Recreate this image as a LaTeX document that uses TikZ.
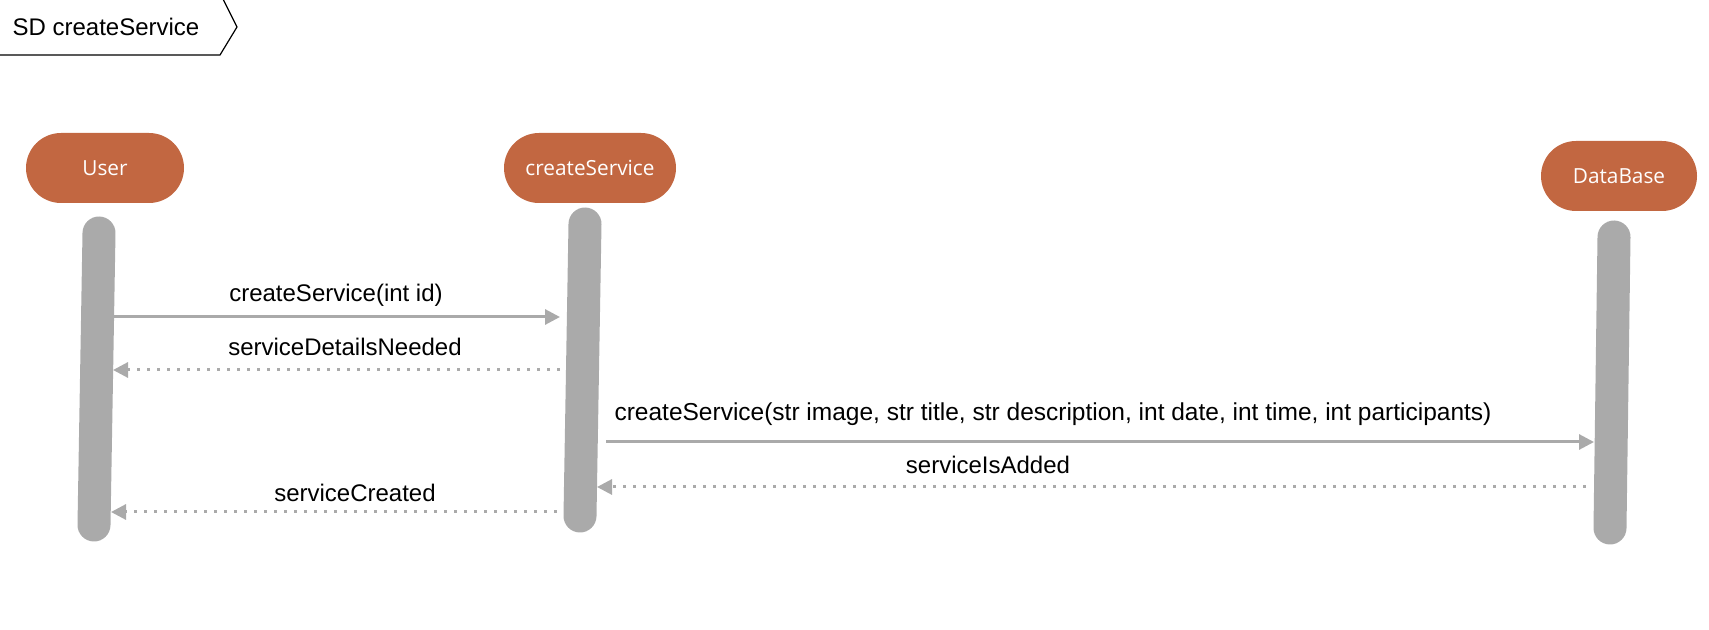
\documentclass[tikz,border=0pt]{standalone}
\usepackage{fontspec}
\setmainfont{Liberation Sans}
\newfontfamily\pillfont{Open Sans}
\usetikzlibrary{arrows.meta}
\definecolor{pillred}{RGB}{194,103,65}
\definecolor{lifegray}{RGB}{170,170,170}

\begin{document}
\begin{tikzpicture}[x=0.5pt, y=-0.5pt, >={Triangle[length=7.5pt,width=7.5pt]},
    font=\fontsize{12}{14}\selectfont,
    actor/.style={fill=pillred, rounded corners=17.5pt, minimum height=35pt,
      inner sep=0pt, text=white, font=\pillfont\fontsize{10.4}{12}\selectfont},
    lifeline/.style={draw=lifegray, line width=16.5pt, line cap=round},
    msg/.style={draw=lifegray, line width=1.5pt, ->},
    reply/.style={msg, dash pattern=on 1.5pt off 3.5pt}]
  \useasboundingbox (0,0) rectangle (1709,630);
  % Frame tab
  \node (frame) at (106,27) {SD createService};
  \draw[line width=0.6pt] (0,55) -- (220,55) -- (237,27) -- (223,-1);
  % Participants
  \node[actor, minimum width=79pt] (user) at (105,168) {User};
  \node[actor, minimum width=86pt] (create) at (590,168) {createService};
  \node[actor, minimum width=78pt] (db) at (1619,176) {DataBase};
  % Lifelines
  \coordinate (userTop) at (99,233);
  \coordinate (userBot) at (94,525);
  \coordinate (createTop) at (585,224);
  \coordinate (createBot) at (580,516);
  \coordinate (dbTop) at (1614,237);
  \coordinate (dbBot) at (1610,528);
  \draw[lifeline] (userTop) -- (userBot);
  \draw[lifeline] (createTop) -- (createBot);
  \draw[lifeline] (dbTop) -- (dbBot);
  % Message ends
  \coordinate (m1a) at (113,317);
  \coordinate (m1b) at (560,317);
  \coordinate (m2a) at (560,370);
  \coordinate (m2b) at (113,370);
  \coordinate (m3a) at (606,442);
  \coordinate (m3b) at (1594,442);
  \coordinate (m4a) at (1586,487);
  \coordinate (m4b) at (597,487);
  \coordinate (m5a) at (557,512);
  \coordinate (m5b) at (111,512);
  % Messages
  \draw[msg] (m1a) -- (m1b);
  \node (l1) at (336,295) {createService(int id)};
  \draw[reply] (m2a) -- (m2b);
  \node (l2) at (345,347) {serviceDetailsNeeded};
  \draw[msg] (m3a) -- (m3b);
  \node[font=\fontsize{12.25}{14}\selectfont] (l3) at (1053,414)
    {createService(str image, str title, str description, int date, int time, int participants)};
  \draw[reply] (m4a) -- (m4b);
  \node (l4) at (988,465) {serviceIsAdded};
  \draw[reply] (m5a) -- (m5b);
  \node (l5) at (355,493) {serviceCreated};
\end{tikzpicture}
\end{document}
